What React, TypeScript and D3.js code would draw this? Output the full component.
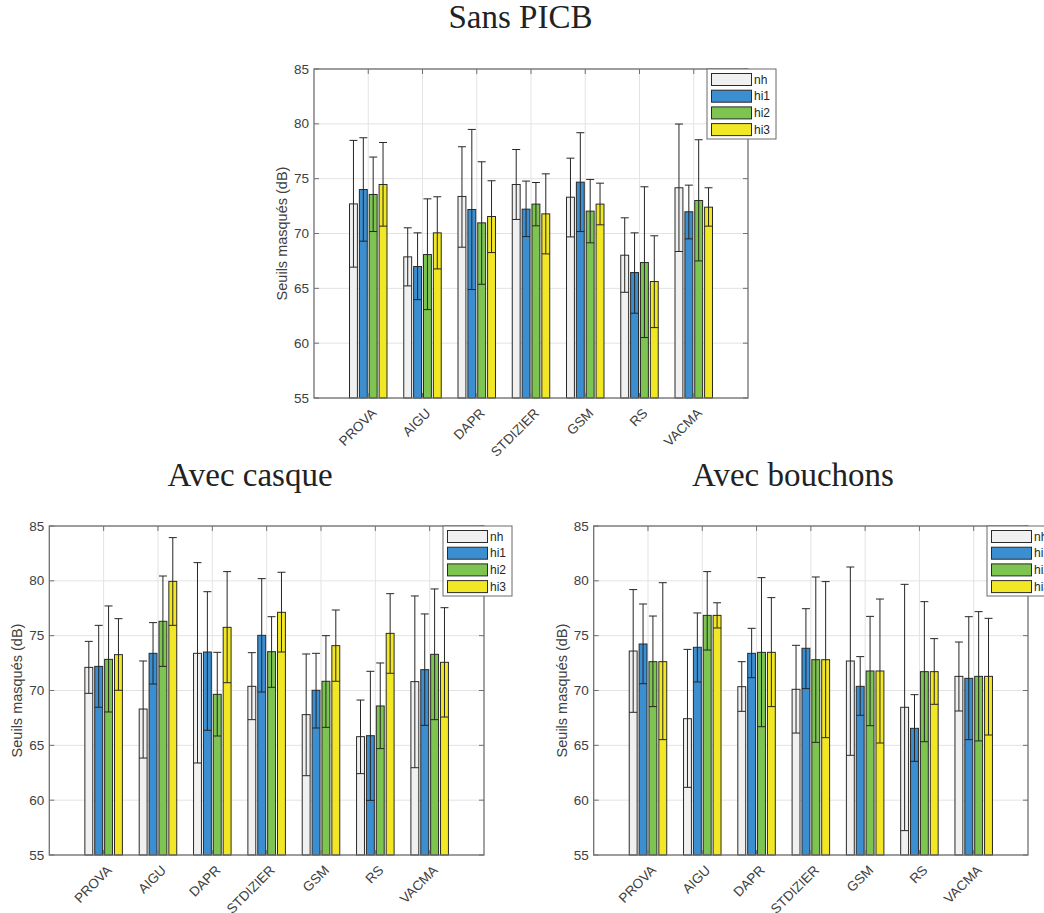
import React from 'react';
import * as d3 from 'd3';

const categories = ['PROVA', 'AIGU', 'DAPR', 'STDIZIER', 'GSM', 'RS', 'VACMA'];
const seriesNames = ['nh', 'hi1', 'hi2', 'hi3'];
const seriesColors = ['#f0f0f0', '#3b8ed0', '#7ec451', '#f1e724'];
const yTicks = [55, 60, 65, 70, 75, 80, 85];

// Sans PICB
const sansMean = [
  [72.7, 67.87, 73.38, 74.47, 73.31, 68.02, 74.17],
  [74.01, 66.99, 72.19, 72.22, 74.68, 66.44, 71.98],
  [73.56, 68.08, 70.97, 72.68, 72.04, 67.35, 73.01],
  [74.47, 70.06, 71.55, 71.79, 72.68, 65.62, 72.4],
];
const sansLower = [
  [66.93, 65.22, 68.75, 71.28, 69.69, 64.64, 68.36],
  [69.3, 63.97, 64.89, 69.72, 70.18, 62.73, 69.51],
  [70.18, 63.06, 65.37, 70.7, 69.15, 60.51, 67.5],
  [70.67, 66.77, 68.26, 68.14, 70.79, 61.42, 70.67],
];
const sansUpper = [
  [78.49, 70.52, 77.91, 77.66, 76.87, 71.43, 79.98],
  [78.73, 70.06, 79.49, 74.78, 79.19, 70.06, 74.41],
  [76.97, 73.16, 76.54, 74.65, 74.93, 74.26, 78.55],
  [78.3, 73.35, 74.81, 75.44, 74.59, 69.79, 74.17],
];

// Avec casque
const casqueMean = [
  [72.11, 68.31, 73.39, 70.38, 67.8, 65.79, 70.81],
  [72.2, 73.39, 73.51, 75.03, 70.02, 65.88, 71.9],
  [72.84, 76.31, 69.65, 73.54, 70.84, 68.59, 73.3],
  [73.27, 79.95, 75.76, 77.13, 74.09, 75.21, 72.57],
];
const casqueLower = [
  [69.74, 63.84, 63.39, 67.34, 62.23, 62.42, 62.96],
  [68.47, 70.59, 66.37, 69.86, 66.58, 59.98, 66.82],
  [68.04, 72.2, 65.85, 70.29, 66.64, 64.7, 67.34],
  [70.02, 75.94, 70.71, 73.51, 70.84, 71.57, 67.58],
];
const casqueUpper = [
  [74.48, 72.69, 81.66, 73.45, 73.33, 69.13, 78.62],
  [75.94, 76.19, 79.01, 80.2, 73.39, 71.75, 76.98],
  [77.71, 80.44, 73.48, 76.73, 75.0, 72.51, 79.26],
  [76.55, 83.94, 80.84, 80.78, 77.34, 78.83, 77.55],
];

// Avec bouchons
const bouchonsMean = [
  [73.6, 67.43, 70.35, 70.11, 72.69, 68.47, 71.29],
  [74.24, 73.94, 73.39, 73.85, 70.38, 66.55, 71.11],
  [72.63, 76.85, 73.48, 72.81, 71.78, 71.72, 71.29],
  [72.63, 76.85, 73.48, 72.81, 71.78, 71.72, 71.29],
];
const bouchonsLower = [
  [68.01, 61.17, 68.1, 66.12, 64.09, 57.22, 68.13],
  [70.62, 70.78, 71.17, 70.17, 67.74, 63.54, 65.52],
  [68.53, 73.69, 66.7, 65.27, 66.79, 65.33, 65.4],
  [65.52, 75.7, 68.53, 65.7, 65.21, 68.74, 65.94],
];
const bouchonsUpper = [
  [79.2, 73.75, 72.63, 74.12, 81.26, 79.68, 74.42],
  [77.89, 77.07, 75.67, 77.46, 73.09, 69.62, 76.73],
  [76.79, 80.84, 80.29, 80.35, 76.76, 78.1, 77.19],
  [79.83, 78.0, 78.47, 79.93, 78.34, 74.73, 76.58],
];

const SANS = 'Liberation Sans, Arial, Helvetica, sans-serif';
const SERIF = 'Liberation Serif, Times New Roman, serif';

type PanelProps = {
  title: string;
  titleX: number;
  titleY: number;
  left: number;
  right: number;
  top: number;
  bottom: number;
  mean: number[][];
  lower: number[][];
  upper: number[][];
};

function Panel({ title, titleX, titleY, left, right, top, bottom, mean, lower, upper }: PanelProps) {
  const x = d3.scaleLinear().domain([0, categories.length + 1]).range([left, right]);
  const y = d3.scaleLinear().domain([55, 85]).range([bottom, top]);
  const n = seriesNames.length;
  const groupW = Math.min(0.8, n / (n + 1.5));
  const step = groupW / n;
  const barW = step * 0.8;
  const barPx = x(barW) - x(0);
  const capHalf = 4;
  const tickLen = 5;

  const legX = right - 41;
  const legY = top;

  return (
    <g>
      <text x={titleX} y={titleY} textAnchor="middle" fontFamily={SERIF} fontSize={33} fill="#222">
        {title}
      </text>
      {/* grid */}
      {yTicks.map((t) => (
        <line key={'gy' + t} x1={left} x2={right} y1={y(t)} y2={y(t)} stroke="#e3e3e3" strokeWidth={1} />
      ))}
      {categories.map((c, i) => (
        <line key={'gx' + c} x1={x(i + 1)} x2={x(i + 1)} y1={top} y2={bottom} stroke="#e3e3e3" strokeWidth={1} />
      ))}
      {/* bars */}
      {seriesNames.map((s, k) =>
        categories.map((c, i) => {
          const cx = i + 1 + (k - (n - 1) / 2) * step;
          return (
            <rect
              key={'b' + s + c}
              x={x(cx - barW / 2)}
              y={y(mean[k][i])}
              width={barPx}
              height={y(55) - y(mean[k][i])}
              fill={seriesColors[k]}
              stroke="#2a2a2a"
              strokeWidth={1}
            />
          );
        })
      )}
      {/* error bars */}
      {seriesNames.map((s, k) =>
        categories.map((c, i) => {
          const cx = x(i + 1 + (k - (n - 1) / 2) * step);
          const yl = y(lower[k][i]);
          const yu = y(upper[k][i]);
          return (
            <g key={'e' + s + c} stroke="#262626" strokeWidth={1}>
              <line x1={cx} x2={cx} y1={yl} y2={yu} />
              <line x1={cx - capHalf} x2={cx + capHalf} y1={yl} y2={yl} />
              <line x1={cx - capHalf} x2={cx + capHalf} y1={yu} y2={yu} />
            </g>
          );
        })
      )}
      {/* axes box */}
      <rect x={left} y={top} width={right - left} height={bottom - top} fill="none" stroke="#707070" strokeWidth={1.3} />
      {yTicks.map((t) => (
        <g key={'ty' + t} stroke="#707070" strokeWidth={1}>
          <line x1={left} x2={left + tickLen} y1={y(t)} y2={y(t)} />
          <line x1={right} x2={right - tickLen} y1={y(t)} y2={y(t)} />
        </g>
      ))}
      {categories.map((c, i) => (
        <g key={'tx' + c} stroke="#707070" strokeWidth={1}>
          <line x1={x(i + 1)} x2={x(i + 1)} y1={bottom} y2={bottom - tickLen} />
          <line x1={x(i + 1)} x2={x(i + 1)} y1={top} y2={top + tickLen} />
        </g>
      ))}
      {yTicks.map((t) => (
        <text
          key={'ly' + t}
          x={left - 5}
          y={y(t)}
          textAnchor="end"
          dominantBaseline="central"
          fontFamily={SANS}
          fontSize={13.5}
          fill="#404040"
        >
          {t}
        </text>
      ))}
      {categories.map((c, i) => {
        const ax = x(i + 1) + 9;
        const ay = bottom + 16;
        return (
          <text
            key={'lx' + c}
            x={ax}
            y={ay}
            transform={`rotate(-45 ${ax} ${ay})`}
            textAnchor="end"
            fontFamily={SANS}
            fontSize={13.5}
            fill="#404040"
          >
            {c}
          </text>
        );
      })}
      <text
        x={left - 32}
        y={(top + bottom) / 2}
        transform={`rotate(-90 ${left - 32} ${(top + bottom) / 2})`}
        textAnchor="middle"
        dominantBaseline="central"
        fontFamily={SANS}
        fontSize={14.5}
        fill="#404040"
      >
        Seuils masqués (dB)
      </text>
      {/* legend */}
      <rect x={legX} y={legY} width={69} height={70} fill="#fff" stroke="#6a6a6a" strokeWidth={1} />
      {seriesNames.map((s, k) => {
        const sy = legY + 4.5 + k * 16.7;
        return (
          <g key={'lg' + s}>
            <rect x={legX + 4.5} y={sy} width={40} height={12} fill={seriesColors[k]} stroke="#2a2a2a" strokeWidth={1} />
            <text x={legX + 47} y={sy + 6} dominantBaseline="central" fontFamily={SANS} fontSize={12} fill="#262626">
              {s}
            </text>
          </g>
        );
      })}
    </g>
  );
}

export default function App() {
  return (
    <svg
      width={1044}
      height={913}
      style={{ position: 'absolute', left: 0, top: 0, background: '#fff' }}
    >
      <rect x={0} y={0} width={1044} height={913} fill="#fff" />
      <Panel
        title="Sans PICB"
        titleX={520.5}
        titleY={28}
        left={314}
        right={748}
        top={69}
        bottom={398}
        mean={sansMean}
        lower={sansLower}
        upper={sansUpper}
      />
      <Panel
        title="Avec casque"
        titleX={250}
        titleY={486}
        left={49.3}
        right={484}
        top={526}
        bottom={855}
        mean={casqueMean}
        lower={casqueLower}
        upper={casqueUpper}
      />
      <Panel
        title="Avec bouchons"
        titleX={793}
        titleY={486}
        left={593.7}
        right={1028}
        top={526}
        bottom={855}
        mean={bouchonsMean}
        lower={bouchonsLower}
        upper={bouchonsUpper}
      />
    </svg>
  );
}
